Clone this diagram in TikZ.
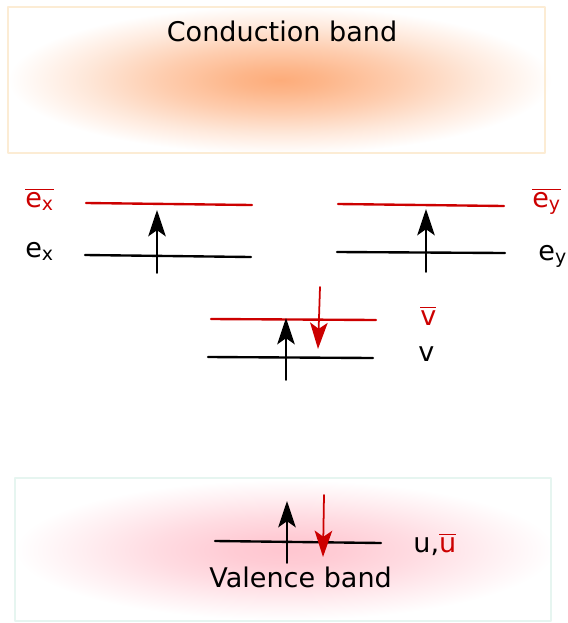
\documentclass[tikz,border=0pt]{standalone}
\usepackage{fontspec}
\setmainfont{DejaVu Sans}
\usetikzlibrary{arrows.meta}
\definecolor{lvred}{RGB}{204,0,0}
\definecolor{cbedge}{RGB}{252,236,212}
\definecolor{vbedge}{RGB}{230,245,240}
\definecolor{cbcore}{RGB}{253,172,122}
\definecolor{vbcore}{RGB}{255,198,208}
\pgfdeclareradialshading{cbglow}{\pgfpoint{0bp}{0bp}}{color(0bp)=(cbcore); color(4bp)=(cbcore!88!white); color(11bp)=(cbcore!60!white); color(18bp)=(cbcore!28!white); color(25bp)=(white); color(50bp)=(white)}
\pgfdeclareradialshading{vbglow}{\pgfpoint{0bp}{0bp}}{color(0bp)=(vbcore); color(5bp)=(vbcore!90!white); color(12bp)=(vbcore!62!white); color(19bp)=(vbcore!28!white); color(25bp)=(white); color(50bp)=(white)}
\tikzset{
  level/.style={line width=1.35pt},
  spin/.style={line width=1pt, -{Stealth[length=15pt, width=10pt, inset=3.5pt]}},
  lab/.style={inner sep=0pt, anchor=base west}
}
\begin{document}
\begin{tikzpicture}[x=0.02cm, y=-0.02cm, font=\fontsize{15.4}{18}\selectfont, line join=round, line cap=round]
\useasboundingbox (0,0) rectangle (568,623);
% bands
\shade[shading=cbglow] (280,80) ellipse (272 and 74);
\draw[cbedge, line width=1.2pt] (8,7) rectangle (545,153);
\shade[shading=vbglow] (285,550) ellipse (270 and 70);
\draw[vbedge, line width=1.2pt] (15,478) rectangle (551,621);
\node[inner sep=0pt, anchor=base] (cbtext) at (282,41) {Conduction band};
\node[lab] (vbtext) at (209,587) {Valence band};
% levels
\coordinate (exb1) at (86,203);
\coordinate (exb2) at (252,205);
\coordinate (ex1) at (85,255);
\coordinate (ex2) at (251,257);
\coordinate (eyb1) at (338,204);
\coordinate (eyb2) at (504,206);
\coordinate (ey1) at (337,252);
\coordinate (ey2) at (505,253);
\coordinate (vb1) at (211,319);
\coordinate (vb2) at (376,320);
\coordinate (v1) at (208,357);
\coordinate (v2) at (373,358);
\coordinate (u1) at (215,541);
\coordinate (u2) at (381,543);
\draw[level, lvred] (exb1) -- (exb2);
\draw[level] (ex1) -- (ex2);
\draw[level, lvred] (eyb1) -- (eyb2);
\draw[level] (ey1) -- (ey2);
\draw[level, lvred] (vb1) -- (vb2);
\draw[level] (v1) -- (v2);
\draw[level] (u1) -- (u2);
% spins
\coordinate (sx0) at (157,273);
\coordinate (sx1) at (157,210);
\coordinate (sy0) at (426,272);
\coordinate (sy1) at (426,209);
\coordinate (sv0) at (286,380);
\coordinate (sv1) at (286,318);
\coordinate (tv0) at (320,287);
\coordinate (tv1) at (318,349);
\coordinate (su0) at (287,563);
\coordinate (su1) at (287,501);
\coordinate (tu0) at (324,495);
\coordinate (tu1) at (323,557);
\draw[spin] (sx0) -- (sx1);
\draw[spin] (sy0) -- (sy1);
\draw[spin] (sv0) -- (sv1);
\draw[spin, lvred] (tv0) -- (tv1);
\draw[spin] (su0) -- (su1);
\draw[spin, lvred] (tu0) -- (tu1);
% labels
\node[lab, lvred] (exblab) at (25,207) {$\overline{\hbox{e\textsubscript{x}}}$};
\node[lab] (exlab) at (25,257) {e\textsubscript{x}};
\node[lab, lvred] (eyblab) at (532,207) {$\overline{\hbox{e\textsubscript{y}}}$};
\node[lab] (eylab) at (538,260) {e\textsubscript{y}};
\node[lab, lvred] (vblab) at (420,325) {$\overline{\hbox{v}}$};
\node[lab] (vlab) at (418,361) {v};
\node[lab] (ulab) at (413,552) {u,\textcolor{lvred}{$\overline{\hbox{u}}$}};
\end{tikzpicture}
\end{document}
